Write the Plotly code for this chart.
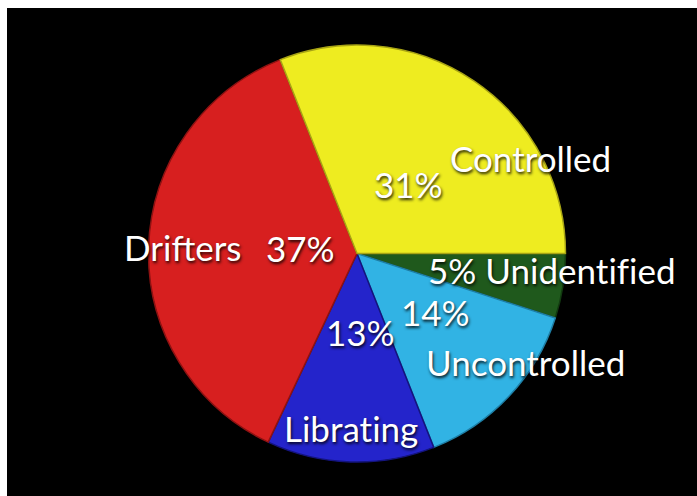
import plotly.graph_objects as go

# Share of each population, in percent
categories = ["Controlled", "Drifters", "Librating", "Uncontrolled", "Unidentified"]
shares = [31, 37, 13, 14, 5]
slice_colors = ["#eeec20", "#d71f1f", "#2424cb", "#31b3e4", "#1f591c"]
rim_colors = ["#a8a414", "#8e1212", "#14147e", "#1e7fa6", "#123a10"]

W, H = 697, 496


def px(x, y):
    """Pixel position -> paper coordinates."""
    return x / W, 1 - y / H


def no_liga(s):
    """Keep 'ti' / 'fi' as separate glyphs (zero-width non-joiner)."""
    return s.replace("ti", "t\u200ci").replace("fi", "f\u200ci")


fig = go.Figure()

# Slices run clockwise from 3 o'clock in reverse order, so that reading
# counterclockwise from 3 o'clock gives Controlled, Drifters, Librating, ...
fig.add_trace(go.Pie(
    labels=categories[::-1],
    values=shares[::-1],
    sort=False,
    direction="clockwise",
    rotation=90,
    marker=dict(colors=slice_colors[::-1],
                line=dict(color=rim_colors[::-1], width=1.5)),
    textinfo="none",
    hoverinfo="label+percent",
    showlegend=False,
    domain=dict(x=[148 / W, 566 / W], y=[1 - 462 / H, 1 - 45 / H]),
))

pct = {c: f"{v}%" for c, v in zip(categories, shares)}

# label text and its centre in pixels
labels = [
    ("Controlled", 530, 158),
    (pct["Controlled"], 408, 184),
    ("Drifters", 183, 247),
    (pct["Drifters"], 300, 248),
    (pct["Librating"], 360, 332),
    ("Librating", 351, 428),
    (pct["Uncontrolled"], 436, 312),
    ("Uncontrolled", 525, 362),
    (pct["Unidentified"] + " Unidentified", 552, 270),
]

for text, x, y in labels:
    ax, ay = px(x, y)
    fig.add_annotation(
        x=ax, y=ay, xref="paper", yref="paper",
        text=no_liga(text), showarrow=False,
        xanchor="center", yanchor="middle",
        font=dict(family="Lato", size=35, color="white",
                  shadow="1px 2px 3px rgba(0,0,0,0.85)"),
    )

# black backdrop inset from the top and left edges
fig.add_shape(
    type="rect", xref="paper", yref="paper",
    x0=7 / W, x1=1, y0=0, y1=1 - 8 / H,
    fillcolor="black", line=dict(width=0), layer="below",
)

fig.update_layout(
    width=W, height=H,
    margin=dict(l=0, r=0, t=0, b=0),
    paper_bgcolor="white",
    plot_bgcolor="black",
)

fig.write_html("out.html")
